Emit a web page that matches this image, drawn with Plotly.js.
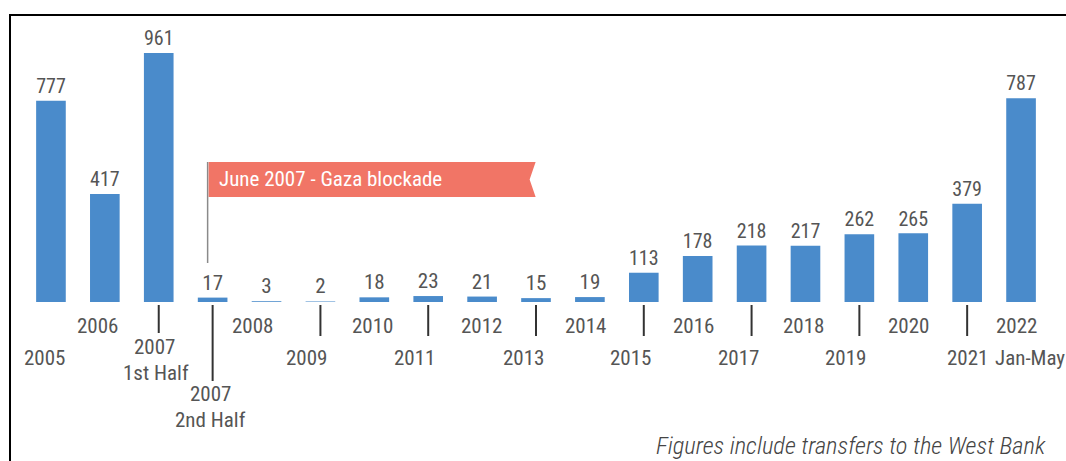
<!DOCTYPE html>
<html><head><meta charset="utf-8">
<script src="https://cdn.plot.ly/plotly-3.0.1.min.js"></script>
<style>
html,body{margin:0;padding:0;background:#fff;}
#wrap{position:relative;width:1066px;height:461px;overflow:hidden;}
#chart{position:absolute;left:0;top:0;width:1066px;height:461px;}
#frame{position:absolute;left:9px;top:14px;width:1080px;height:470px;border-left:2px solid #000;border-top:2px solid #000;pointer-events:none;}
</style></head>
<body><div id="wrap"><div id="chart"></div><div id="frame"></div></div>
<script>
const categories = ["2005","2006","2007 1st Half","2007 2nd Half","2008","2009","2010","2011","2012","2013","2014","2015","2016","2017","2018","2019","2020","2021","2022 Jan-May"];
const values = [777,417,961,17,3,2,18,23,21,15,19,113,178,218,217,262,265,379,787];
const tickLines = [["2005"],["2006"],["2007","1st Half"],["2007","2nd Half"],["2008"],["2009"],["2010"],["2011"],["2012"],["2013"],["2014"],["2015"],["2016"],["2017"],["2018"],["2019"],["2020"],["2021"],["2022","Jan-May"]];
const bannerText = "June 2007 - Gaza blockade";
const footnote = "Figures include transfers to the West Bank";

// layout helpers (pixel offsets relative to bar centre / baseline)
const FONT = "Roboto Condensed, Liberation Sans Narrow, Roboto, sans-serif";
const GREY = "#555555";
const UPPER = 24, LOWER = 56;
function labelRows(i){
  if(i===0) return [LOWER];
  if(i===1) return [UPPER];
  if(i===2) return [45,71];
  if(i===3) return [92,118];
  if(i===18) return [UPPER,LOWER];
  return [(i%2===0)?UPPER:LOWER];
}
const labelDx = [[-6],[-7],[-4,-3],[-2,-2],[-14],[-14],[-2],[-14],[-1],[-13],[-4],[-13],[-4],[-13],[-2],[-14],[-5],[0],[-5,9]];
function tickLen(i){
  if(i===3) return 76;
  if(i===2) return 28;
  if(i>=5 && i%2===1) return 31;
  return 0;
}

const annotations = [];
const shapes = [];
categories.forEach((c,i)=>{
  const rows = labelRows(i);
  tickLines[i].forEach((t,k)=>{
    annotations.push({x:i,y:0,xref:'x',yref:'y',text:t,showarrow:false,xanchor:'center',yanchor:'middle',
      xshift:labelDx[i][k],yshift:-rows[k],font:{family:FONT,size:21,color:GREY}});
  });
  const L = tickLen(i);
  if(L>0){
    shapes.push({type:'line',xref:'x',yref:'paper',x0:i,x1:i,ysizemode:'pixel',yanchor:0,y0:-3,y1:-3-L,
      line:{color:'#333',width:2}});
  }
});
// flag pole and banner anchored at 2007 2nd Half
const anchorIdx = 3;
shapes.push({type:'line',xref:'x',yref:'paper',xsizemode:'pixel',xanchor:anchorIdx,x0:-5,x1:-5,
  ysizemode:'pixel',yanchor:0,y0:39,y1:140,line:{color:'#8a8a8a',width:1.5}});
shapes.push({type:'path',xref:'x',yref:'paper',xsizemode:'pixel',xanchor:anchorIdx,ysizemode:'pixel',yanchor:0,
  path:'M -4,140 L 323,140 L 317,122.5 L 323,105 L -4,105 Z',fillcolor:'#f17566',line:{width:0}});
annotations.push({x:anchorIdx,y:0,xref:'x',yref:'y',text:bannerText,showarrow:false,xanchor:'left',yanchor:'middle',
  xshift:4,yshift:123,font:{family:FONT,size:21,color:'#ffffff'}});
annotations.push({x:1,y:0,xref:'paper',yref:'y',text:'<i>'+footnote+'</i>',showarrow:false,xanchor:'right',yanchor:'middle',
  xshift:0,yshift:-143,font:{family:FONT,size:24.5,color:'#444444',weight:300}});

const trace = {type:'bar',x:categories,y:values,text:values.map(String),textposition:'outside',cliponaxis:false,
  textfont:{family:FONT,size:21,color:GREY},marker:{color:'#4a8bcb'},hoverinfo:'none'};

const layout = {
  width:1066,height:461,margin:{l:23.5,r:18,t:43,b:159},
  paper_bgcolor:'#fff',plot_bgcolor:'#fff',showlegend:false,bargap:0.45,
  xaxis:{type:'category',showticklabels:false,showline:false,showgrid:false,zeroline:false,ticks:'',range:[-0.5,18.5],fixedrange:true},
  yaxis:{visible:false,range:[0,1000],fixedrange:true},
  annotations:annotations,shapes:shapes
};
Plotly.newPlot('chart',[trace],layout,{staticPlot:true,displayModeBar:false});
</script></body></html>
